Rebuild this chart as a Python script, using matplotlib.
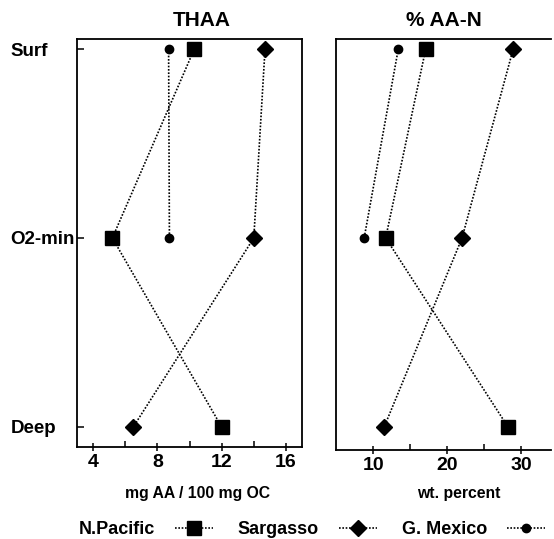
import matplotlib
matplotlib.use("Agg")
import matplotlib.pyplot as plt
import numpy as np

plt.rcParams['font.family'] = ['Liberation Sans', 'DejaVu Sans']
plt.rcParams['font.weight'] = 'bold'

depths = ["Surf", "O2-min", "Deep"]
series = ["N.Pacific", "Sargasso", "G. Mexico"]
thaa = {
    "N.Pacific": [10.3, 5.2, 12.0],
    "Sargasso": [14.7, 14.0, 6.5],
    "G. Mexico": [8.7, 8.75, np.nan],
}
aan = {
    "N.Pacific": [17.1, 11.7, 28.2],
    "Sargasso": [28.9, 22.0, 11.5],
    "G. Mexico": [13.4, 8.8, np.nan],
}
markers = {"N.Pacific": ("s", 9.5), "Sargasso": ("D", 8.0), "G. Mexico": ("o", 6.0)}

W, H = 554, 539
fig = plt.figure(figsize=(W / 100, H / 100), dpi=100)

def frac(x0, x1, y0, y1):
    return [x0 / W, 1 - y1 / H, (x1 - x0) / W, (y1 - y0) / H]

ax1 = fig.add_axes(frac(77, 302, 39, 447))
ax2 = fig.add_axes(frac(336, 551, 39, 450))

ypos = np.arange(len(depths))
ls = (0, (1, 1))
handles = []
for s in series:
    m, ms = markers[s]
    h, = ax1.plot(thaa[s], ypos, color='black', linestyle=ls, linewidth=1.2,
                  marker=m, markersize=ms, label=s)
    ax2.plot(aan[s], ypos, color='black', linestyle=ls, linewidth=1.2,
             marker=m, markersize=ms)
    handles.append(h)

ax1.set_ylim(2.106, -0.053)
ax2.set_ylim(2.122, -0.053)
for ax in (ax1, ax2):
    for sp in ax.spines.values():
        sp.set_linewidth(1.3)

ax1.set_xlim(3, 17)
ax1.set_xticks([4, 8, 12, 16])
ax1.set_xticks([6, 10, 14], minor=True)
ax2.set_xlim(5, 34)
ax2.set_xticks([10, 20, 30])
ax2.set_xticks([15, 25], minor=True)
ax2.spines['right'].set_visible(False)

for ax in (ax1, ax2):
    ax.tick_params(axis='x', which='major', direction='inout', length=6, width=1.1,
                   labelsize=14, pad=2)
    ax.tick_params(axis='x', which='minor', direction='in', length=4, width=1.1)
    ax.tick_params(axis='x', top=False)

ax1.set_yticks(ypos)
ax1.set_yticklabels(depths)
ax1.tick_params(axis='y', direction='in', length=5, width=1.1, labelsize=13.5, pad=48)
for lab in ax1.get_yticklabels():
    lab.set_ha('left')
ax2.set_yticks([])

ax1.set_title("THAA", fontsize=15, fontweight='bold', x=0.556, pad=9)
ax2.set_title("% AA-N", fontsize=15, fontweight='bold', x=0.5, pad=9)

ax1.set_xlabel("mg AA / 100 mg OC", fontsize=11.3, fontweight='bold')
ax1.xaxis.set_label_coords(0.536, -0.095)
ax2.set_xlabel("wt. percent", fontsize=11.3, fontweight='bold')
ax2.xaxis.set_label_coords(0.572, -0.088)

fig.legend(handles=handles, labels=series, loc='center', bbox_to_anchor=(0.563, 1 - 530 / H),
           ncol=3, frameon=False, markerfirst=False, handlelength=2.1,
           handletextpad=1.1, columnspacing=1.4, prop={'size': 13, 'weight': 'bold'},
           borderpad=0)

fig.savefig("out.png", dpi=100)
